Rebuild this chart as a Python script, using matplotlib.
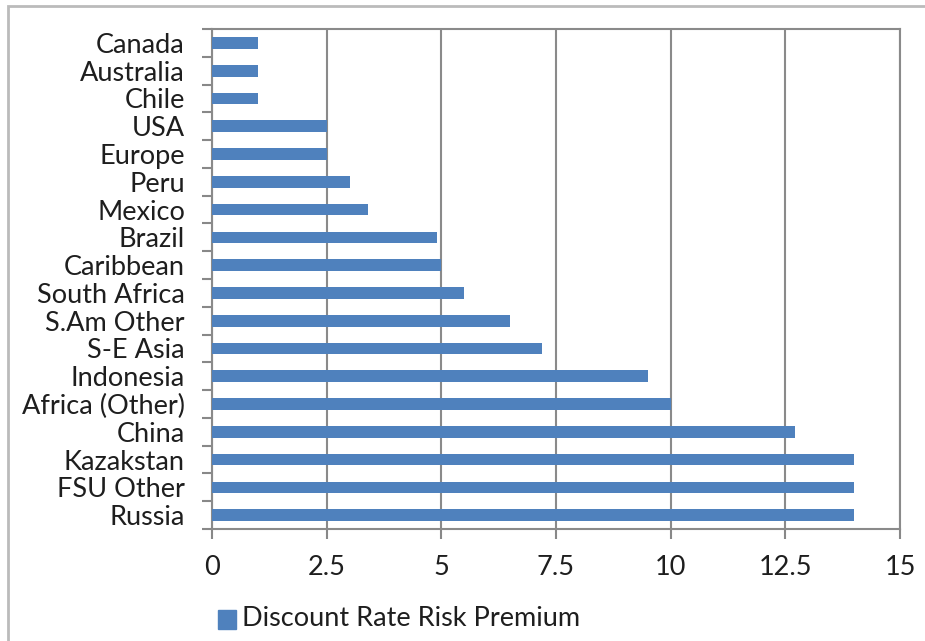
import numpy as np
import matplotlib.pyplot as plt
from matplotlib.patches import Rectangle

# categories listed bottom to top
regions = ["Russia", "FSU Other", "Kazakstan", "China", "Africa (Other)",
           "Indonesia", "S-E Asia", "S.Am Other", "South Africa", "Caribbean",
           "Brazil", "Mexico", "Peru", "Europe", "USA", "Chile", "Australia", "Canada"]
premium = [14, 14, 14, 12.7, 10, 9.5, 7.2, 6.5, 5.5, 5, 4.9, 3.4, 3, 2.5, 2.5, 1, 1, 1]
xticks = [0, 2.5, 5, 7.5, 10, 12.5, 15]
xticklabels = ["0", "2.5", "5", "7.5", "10", "12.5", "15"]

blue = "#4F81BD"
plt.rcParams['font.family'] = ['Lato', 'DejaVu Sans']
fs = 19.5

fig = plt.figure(figsize=(9.25, 6.41), dpi=100)
ax = fig.add_axes([212/925, 1-529/641, 688/925, 500/641])

y = np.arange(len(regions))
ax.barh(y, premium, height=0.42, color=blue, zorder=3)

ax.set_xlim(0, 15)
ax.set_ylim(-0.5, len(regions) - 0.5)
ax.set_xticks(xticks)
ax.set_xticklabels(xticklabels, fontsize=fs, color="#1e1e1e")
ax.set_yticks(y)
ax.set_yticklabels(regions, fontsize=fs, color="#1e1e1e")
ax.tick_params(axis='y', length=0, pad=19.5)
ax.set_yticks(np.arange(-0.5, len(regions)), minor=True)
ax.tick_params(axis='y', which='minor', length=7, width=1.5, color="#888888")
ax.tick_params(axis='x', length=7, width=1.5, color="#888888", pad=12)

ax.grid(axis='x', color="#8a8a8a", linewidth=1.5, zorder=0)
for s in ax.spines.values():
    s.set_color("#8a8a8a")
    s.set_linewidth(1.5)

# legend
fig.patches.append(Rectangle((218/925, 1-629/641), 18/925, 19/641,
                             transform=fig.transFigure, color=blue))
fig.text(242/925, 1-619/641, "Discount Rate Risk Premium", fontsize=fs,
         va='center', ha='left', color="#1e1e1e")

# outer border
fig.patches.append(Rectangle((8/925, -0.05), 1.0, 1-6/641+0.05, transform=fig.transFigure,
                             fill=False, edgecolor="#bbbbbb", linewidth=2))

fig.savefig("out.png", dpi=100)
